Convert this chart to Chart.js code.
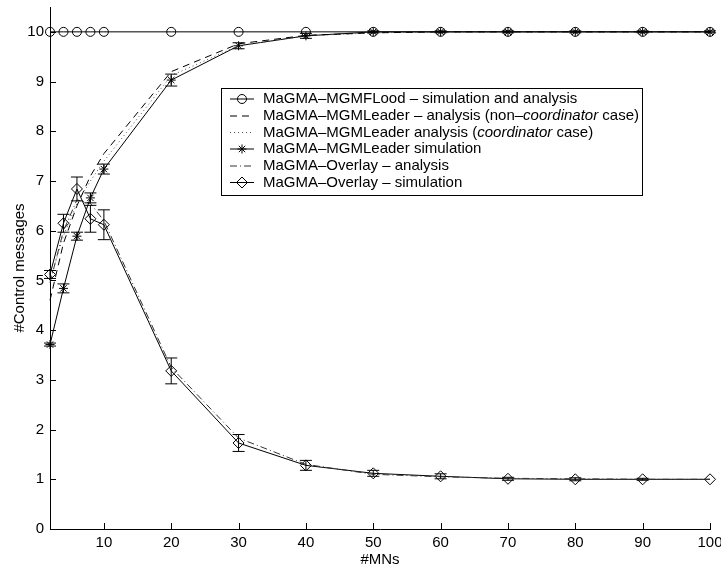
<!DOCTYPE html>
<html>
<head>
<meta charset="utf-8">
<script src="https://cdn.jsdelivr.net/npm/chart.js@4.4.1/dist/chart.umd.min.js"></script>
<style>
  html, body { margin: 0; padding: 0; background: #fff; }
  #wrap { width: 721px; height: 570px; }
</style>
</head>
<body>
<div id="wrap"><canvas id="c" width="721" height="570"></canvas></div>
<script>
// ---- data ----
const mns = [2, 4, 6, 8, 10, 20, 30, 40, 50, 60, 70, 80, 90, 100];

const floodSim        = [10, 10, 10, 10, 10, 10, 10, 10, 10, 10, 10, 10, 10, 10];
const leaderNonCoord  = [4.6, 5.75, 6.5, 7.1, 7.55, 9.2, 9.76, 9.93, 9.98, 10, 10, 10, 10, 10];
const leaderCoord     = [5.0, 5.9, 6.55, 7.0, 7.4, 9.12, 9.72, 9.92, 9.98, 10, 10, 10, 10, 10];
const leaderSim       = [3.71, 4.84, 5.89, 6.66, 7.24, 9.03, 9.72, 9.92, 10, 10, 10, 10, 10, 10];
const leaderSimErr    = [0.03, 0.09, 0.08, 0.1, 0.1, 0.12, 0.06, 0.05, 0.02, 0.02, 0.02, 0.02, 0.02, 0.02];
const overlayAna      = [4.95, 6.0, 6.62, 6.55, 6.2, 3.25, 1.83, 1.3, 1.1, 1.05, 1.02, 1.01, 1.0, 1.0];
const overlaySim      = [5.12, 6.15, 6.84, 6.24, 6.12, 3.18, 1.73, 1.28, 1.12, 1.06, 1.01, 1.0, 1.0, 1.0];
const overlaySimErr   = [0.08, 0.18, 0.24, 0.27, 0.3, 0.26, 0.17, 0.1, 0.06, 0.05, 0.03, 0.03, 0.02, 0.0];

const xTicks = [10, 20, 30, 40, 50, 60, 70, 80, 90, 100];
const yTicks = [0, 1, 2, 3, 4, 5, 6, 7, 8, 9, 10];

const FONT = '"Liberation Sans", Arial, Helvetica, sans-serif';

function pts(ys) {
  return mns.map((x, i) => ({ x, y: ys[i] }));
}

function series(label, ys, dash, marker, radius, extra) {
  return Object.assign({
    label: label,
    data: pts(ys),
    borderColor: '#000',
    backgroundColor: 'rgba(0,0,0,0)',
    borderWidth: 1,
    borderDash: dash,
    pointStyle: marker || 'circle',
    pointRadius: marker ? radius : 0,
    pointBorderColor: '#000',
    pointBackgroundColor: 'rgba(0,0,0,0)',
    pointBorderWidth: 1,
    tension: 0,
    clip: false
  }, extra || {});
}

// legend rows: [segments (text, italic)]
const legendRows = [
  [['MaGMA–MGMFLood – simulation and analysis', false]],
  [['MaGMA–MGMLeader – analysis (non–', false], ['coordinator', true], [' case)', false]],
  [['MaGMA–MGMLeader analysis (', false], ['coordinator', true], [' case)', false]],
  [['MaGMA–MGMLeader simulation', false]],
  [['MaGMA–Overlay – analysis', false]],
  [['MaGMA–Overlay – simulation', false]]
];

// ═══════════════════════════════════════
//  MARKERS
// ═══════════════════════════════════════

function drawMarker(ctx, style, x, y, r) {
  ctx.beginPath();
  if (style === 'circle') {
    ctx.arc(x, y, r, 0, Math.PI * 2);
  } else if (style === 'rectRot') {
    ctx.moveTo(x - r, y); ctx.lineTo(x, y - r);
    ctx.lineTo(x + r, y); ctx.lineTo(x, y + r);
    ctx.closePath();
  } else if (style === 'star') {
    ctx.moveTo(x - r, y); ctx.lineTo(x + r, y);
    ctx.moveTo(x, y - r); ctx.lineTo(x, y + r);
    const d = r * Math.SQRT1_2;
    ctx.moveTo(x - d, y - d); ctx.lineTo(x + d, y + d);
    ctx.moveTo(x - d, y + d); ctx.lineTo(x + d, y - d);
  }
  ctx.stroke();
}

// ═══════════════════════════════════════
//  PLUGINS
// ═══════════════════════════════════════

const errorBars = {
  id: 'errorBars',
  afterDatasetsDraw(chart) {
    const ctx = chart.ctx;
    const xs = chart.scales.x, ys = chart.scales.y;
    const sets = [[leaderSim, leaderSimErr], [overlaySim, overlaySimErr]];
    ctx.save();
    ctx.strokeStyle = '#000';
    ctx.lineWidth = 1;
    ctx.setLineDash([]);
    sets.forEach(([vals, errs]) => {
      mns.forEach((m, i) => {
        if (!errs[i]) return;
        const px = xs.getPixelForValue(m);
        const top = ys.getPixelForValue(vals[i] + errs[i]);
        const bot = ys.getPixelForValue(vals[i] - errs[i]);
        ctx.beginPath();
        ctx.moveTo(px, top); ctx.lineTo(px, bot);
        ctx.moveTo(px - 6, top); ctx.lineTo(px + 6, top);
        ctx.moveTo(px - 6, bot); ctx.lineTo(px + 6, bot);
        ctx.stroke();
      });
    });
    ctx.restore();
  }
};

const innerTicks = {
  id: 'innerTicks',
  afterDraw(chart) {
    const ctx = chart.ctx;
    const xs = chart.scales.x, ys = chart.scales.y;
    const area = chart.chartArea;
    ctx.save();
    ctx.strokeStyle = '#000';
    ctx.lineWidth = 1;
    ctx.beginPath();
    xTicks.forEach(v => {
      const px = Math.round(xs.getPixelForValue(v)) + 0.5;
      ctx.moveTo(px, area.bottom); ctx.lineTo(px, area.bottom - 6);
    });
    yTicks.forEach(v => {
      const py = Math.round(ys.getPixelForValue(v)) + 0.5;
      ctx.moveTo(area.left, py); ctx.lineTo(area.left + 6, py);
    });
    ctx.stroke();
    ctx.restore();
  }
};

const boxLegend = {
  id: 'boxLegend',
  afterDraw(chart) {
    const ctx = chart.ctx;
    const left = 221, top = 88, right = 642, bottom = 195;
    const rowY = [99, 116, 132.5, 149, 166, 182.5];
    ctx.save();
    ctx.fillStyle = '#fff';
    ctx.fillRect(left, top, right - left, bottom - top);
    ctx.strokeStyle = '#000';
    ctx.lineWidth = 1;
    ctx.strokeRect(left + 0.5, top + 0.5, right - left, bottom - top);
    chart.data.datasets.forEach((ds, i) => {
      const y = rowY[i];
      ctx.strokeStyle = ds.borderColor;
      ctx.setLineDash(ds.borderDash || []);
      ctx.beginPath();
      ctx.moveTo(230, y); ctx.lineTo(254, y);
      ctx.stroke();
      ctx.setLineDash([]);
      ctx.strokeStyle = '#000';
      if (ds.pointRadius) drawMarker(ctx, ds.pointStyle, 242, y, ds.pointRadius);
      let tx = 263;
      ctx.fillStyle = '#000';
      ctx.textBaseline = 'middle';
      legendRows[i].forEach(([txt, it]) => {
        ctx.font = (it ? 'italic ' : '') + '15px ' + FONT;
        ctx.fillText(txt, tx, y);
        tx += ctx.measureText(txt).width;
      });
    });
    ctx.restore();
  }
};

// ═══════════════════════════════════════
//  CHART
// ═══════════════════════════════════════

new Chart(document.getElementById('c').getContext('2d'), {
  type: 'line',
  data: {
    datasets: [
      series('MaGMA-MGMFLood - simulation and analysis', floodSim, [], 'circle', 4.5),
      series('MaGMA-MGMLeader - analysis (non-coordinator case)', leaderNonCoord, [7, 5], null, 0),
      series('MaGMA-MGMLeader analysis (coordinator case)', leaderCoord, [1, 3], null, 0, { borderColor: '#555' }),
      series('MaGMA-MGMLeader simulation', leaderSim, [], 'star', 4.5),
      series('MaGMA-Overlay - analysis', overlayAna, [7, 3, 1, 3], null, 0, { borderColor: '#333' }),
      series('MaGMA-Overlay - simulation', overlaySim, [], 'rectRot', 5.5)
    ]
  },
  options: {
    responsive: false,
    animation: false,
    events: [],
    layout: { padding: { left: 0, right: 11, top: 7, bottom: 0 } },
    plugins: {
      legend: { display: false },
      tooltip: { enabled: false }
    },
    scales: {
      x: {
        type: 'linear',
        min: 2,
        max: 100,
        afterBuildTicks: s => { s.ticks = xTicks.map(v => ({ value: v })); },
        afterFit: s => { s.height = 41; s.paddingLeft = 0; s.paddingRight = 0; },
        grid: { display: false, drawTicks: false },
        border: { display: true, color: '#000', width: 1 },
        ticks: { color: '#000', padding: 5, maxRotation: 0, autoSkip: false,
                 font: { family: FONT, size: 15 } },
        title: { display: true, text: '#MNs', color: '#000', padding: { top: 0, bottom: 1 },
                 font: { family: FONT, size: 15 } }
      },
      y: {
        type: 'linear',
        min: 0,
        max: 10.5,
        afterBuildTicks: s => { s.ticks = yTicks.map(v => ({ value: v })); },
        afterFit: s => { s.width = 50; s.paddingTop = 0; s.paddingBottom = 0; },
        grid: { display: false, drawTicks: false },
        border: { display: true, color: '#000', width: 1 },
        ticks: { color: '#000', padding: 6, autoSkip: false,
                 font: { family: FONT, size: 15 } },
        title: { display: true, text: '#Control messages', color: '#000', padding: { top: 11, bottom: 0 },
                 font: { family: FONT, size: 15 } }
      }
    }
  },
  plugins: [errorBars, innerTicks, boxLegend]
});
</script>
</body>
</html>
